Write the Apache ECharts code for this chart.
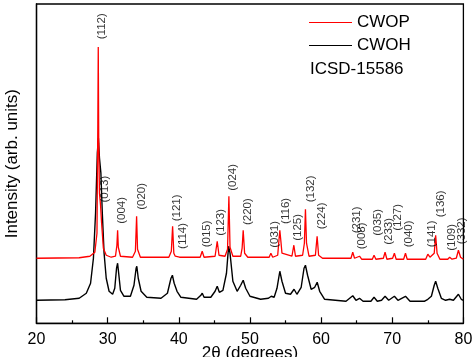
<!DOCTYPE html>
<html><head><meta charset="utf-8">
<script src="https://cdn.jsdelivr.net/npm/echarts@6/dist/echarts.min.js"></script>
<style>html,body{margin:0;padding:0;background:#fff;overflow:hidden}#c{width:474px;height:357px}</style>
</head><body><div id="c"></div>
<script>
// CWOP (red, offset) pattern: [2theta, intensity]
var cwopData = [[20,65],[26,65.5],[27.5,67],[28.2,71],[28.5,90],[28.62,200],[28.68,276],[28.75,180],[28.85,130],[29.0,118],[29.15,100],[29.4,75],[29.8,68],[30.5,66],[31.1,67],[31.3,78],[31.4,93],[31.5,76],[31.8,67],[33.5,66],[33.9,72],[34.07,107],[34.2,74],[34.6,66],[38.6,66],[38.95,72],[39.13,97],[39.3,70],[39.5,67],[39.78,68.5],[40.1,66],[43.0,66],[43.29,72],[43.55,66],[45.1,67],[45.4,82],[45.65,68],[46.5,67],[46.85,74],[47.04,127],[47.2,76],[47.6,67],[48.7,67],[48.9,75],[49.05,93],[49.25,70],[49.7,66],[52.7,66],[52.94,70],[53.2,66],[53.9,68],[54.1,85],[54.2,93],[54.35,82],[54.5,70],[55.9,67],[56.17,78],[56.4,67],[57.4,68],[57.65,80],[57.8,114],[57.95,80],[58.3,67],[59.2,68],[59.44,87],[59.65,68],[60.2,65],[64.2,65],[64.45,71],[64.7,65],[65.4,67],[65.7,64],[67.2,64],[67.44,68],[67.7,64],[68.75,65],[68.99,71],[69.25,64],[70.05,65],[70.3,70],[70.55,64],[71.6,64],[71.86,70],[72.1,64],[74.7,64],[75.0,69],[75.3,66],[75.9,70],[76.1,88],[76.3,70],[76.7,64],[77.8,64],[78.07,66],[78.4,64],[79.0,65],[79.3,73],[79.6,66],[80,64]];
// CWOH (black) pattern: [2theta, intensity]
var cwohData = [[20,23],[24,23.5],[26,25],[27,30],[27.6,40],[28.0,65],[28.3,110],[28.55,170],[28.7,185],[28.85,165],[29.05,150],[29.25,110],[29.5,70],[29.8,45],[30.2,32],[30.7,29],[31.0,35],[31.25,55],[31.4,60],[31.55,50],[31.8,33],[32.3,27],[33.2,27],[33.7,38],[34.0,55],[34.1,57],[34.3,45],[34.7,32],[35.5,26],[37.5,25],[38.4,30],[38.9,45],[39.1,48],[39.35,40],[39.75,32],[40.3,26],[42.5,24],[43.1,28],[43.3,30],[43.55,26],[44.5,26],[45.1,32],[45.4,37],[45.7,31],[46.2,33],[46.7,50],[47.0,77],[47.2,70],[47.6,42],[48.2,32],[48.7,38],[49.05,43],[49.4,35],[50.0,27],[51.5,24],[52.6,25],[53.0,27],[53.4,26],[53.8,35],[54.2,52],[54.5,42],[55.0,30],[55.7,29],[56.2,34],[56.6,29],[57.2,36],[57.6,55],[57.8,58],[58.1,48],[58.6,34],[59.1,36],[59.45,41],[59.8,32],[60.5,24],[63.5,22],[64.45,27.5],[64.9,23],[65.4,25],[65.9,22],[67.0,22],[67.44,26],[67.9,22],[68.5,23],[68.99,27],[69.5,23],[70.3,27],[70.8,23],[71.86,27],[72.5,22],[74.5,22],[75.0,24],[75.5,27],[75.9,38],[76.1,42],[76.4,35],[76.9,25],[77.5,23],[78.07,24],[78.6,23],[79.3,29],[79.7,24],[80,23]];
// Miller index annotations
var hklNames = ['(112)','(013)','(004)','(020)','(121)','(114)','(015)','(123)','(024)','(220)','(031)','(116)','(125)','(132)','(224)','(231)','(008)','(035)','(233)','(127)','(040)','(141)','(136)','(109)','(332)'];
var hklTheta = [29.16,29.62,32.05,34.78,39.78,40.62,43.9,45.91,47.64,49.66,53.5,55.0,56.77,58.51,60.14,64.97,65.67,68.0,69.55,70.81,72.32,75.59,76.81,78.31,79.72];
var hklLevel = [296.8,134,112.8,126.8,115.3,87.3,89.3,100.8,145.8,111.6,88.8,112.3,95.8,134.3,107.3,103.3,87.3,100.8,91.8,105.8,89.3,89.3,119.3,85.8,92.3];
var xTicks = [20,30,40,50,60,70,80];
var seriesNames = ['CWOP','CWOH'];
var refNote = 'ICSD-15586';

var font = '"Liberation Sans", Arial, sans-serif';
var chart = echarts.init(document.getElementById('c'), null, {renderer:'canvas'});
var labelData = hklTheta.map(function(t,i){return {value:[t,hklLevel[i]], name:hklNames[i]};});
chart.setOption({
  animation:false,
  backgroundColor:'#fff',
  grid:{left:36.5,right:10.6,top:4,bottom:33.7,containLabel:false,outerBoundsMode:'none',
    show:true,borderColor:'#000',borderWidth:1.3,backgroundColor:'transparent'},
  xAxis:{type:'value',min:xTicks[0],max:xTicks[xTicks.length-1],interval:10,
    name:'2θ (degrees)',nameLocation:'middle',nameGap:22,nameMoveOverlap:false,
    nameTextStyle:{fontFamily:font,fontSize:17,color:'#000'},
    axisLine:{lineStyle:{color:'#000',width:1.3}},
    axisTick:{inside:true,length:6,lineStyle:{color:'#000',width:1.2}},
    minorTick:{show:true,splitNumber:2,length:3,lineStyle:{color:'#000',width:1.2}},
    axisLabel:{fontFamily:font,fontSize:16,color:'#000',margin:8},
    splitLine:{show:false}},
  yAxis:{type:'value',min:0,max:319,
    name:'Intensity (arb. units)',nameLocation:'middle',nameGap:16,nameMoveOverlap:false,
    nameTextStyle:{fontFamily:font,fontSize:17,color:'#000'},
    axisLine:{show:true,lineStyle:{color:'#000',width:1.3}},
    axisTick:{show:false},axisLabel:{show:false},splitLine:{show:false}},
  legend:{orient:'vertical',left:304,top:9,itemWidth:43,itemHeight:17,itemGap:6,
    data:seriesNames,icon:'path://M0,8 L43,8 L43,9 L0,9 Z',
    textStyle:{fontFamily:font,fontSize:17,color:'#000',lineHeight:17}},
  graphic:[{type:'text',left:310,top:61,style:{text:refNote,font:'17px '+font,fill:'#000'}}],
  series:[
    {name:seriesNames[1],type:'line',data:cwohData,showSymbol:false,symbol:'none',lineStyle:{color:'#000',width:1.4},itemStyle:{color:'#000'},z:2},
    {name:seriesNames[0],type:'line',data:cwopData,showSymbol:false,symbol:'none',lineStyle:{color:'#ff0000',width:1.3},itemStyle:{color:'#ff0000'},z:3},
    {type:'scatter',data:labelData,symbolSize:0,silent:true,z:5,
      label:{show:true,position:'inside',rotate:90,formatter:function(p){return p.name;},
        fontFamily:font,fontSize:11.5,color:'#000',align:'center',verticalAlign:'middle'}}
  ]
});
</script></body></html>
